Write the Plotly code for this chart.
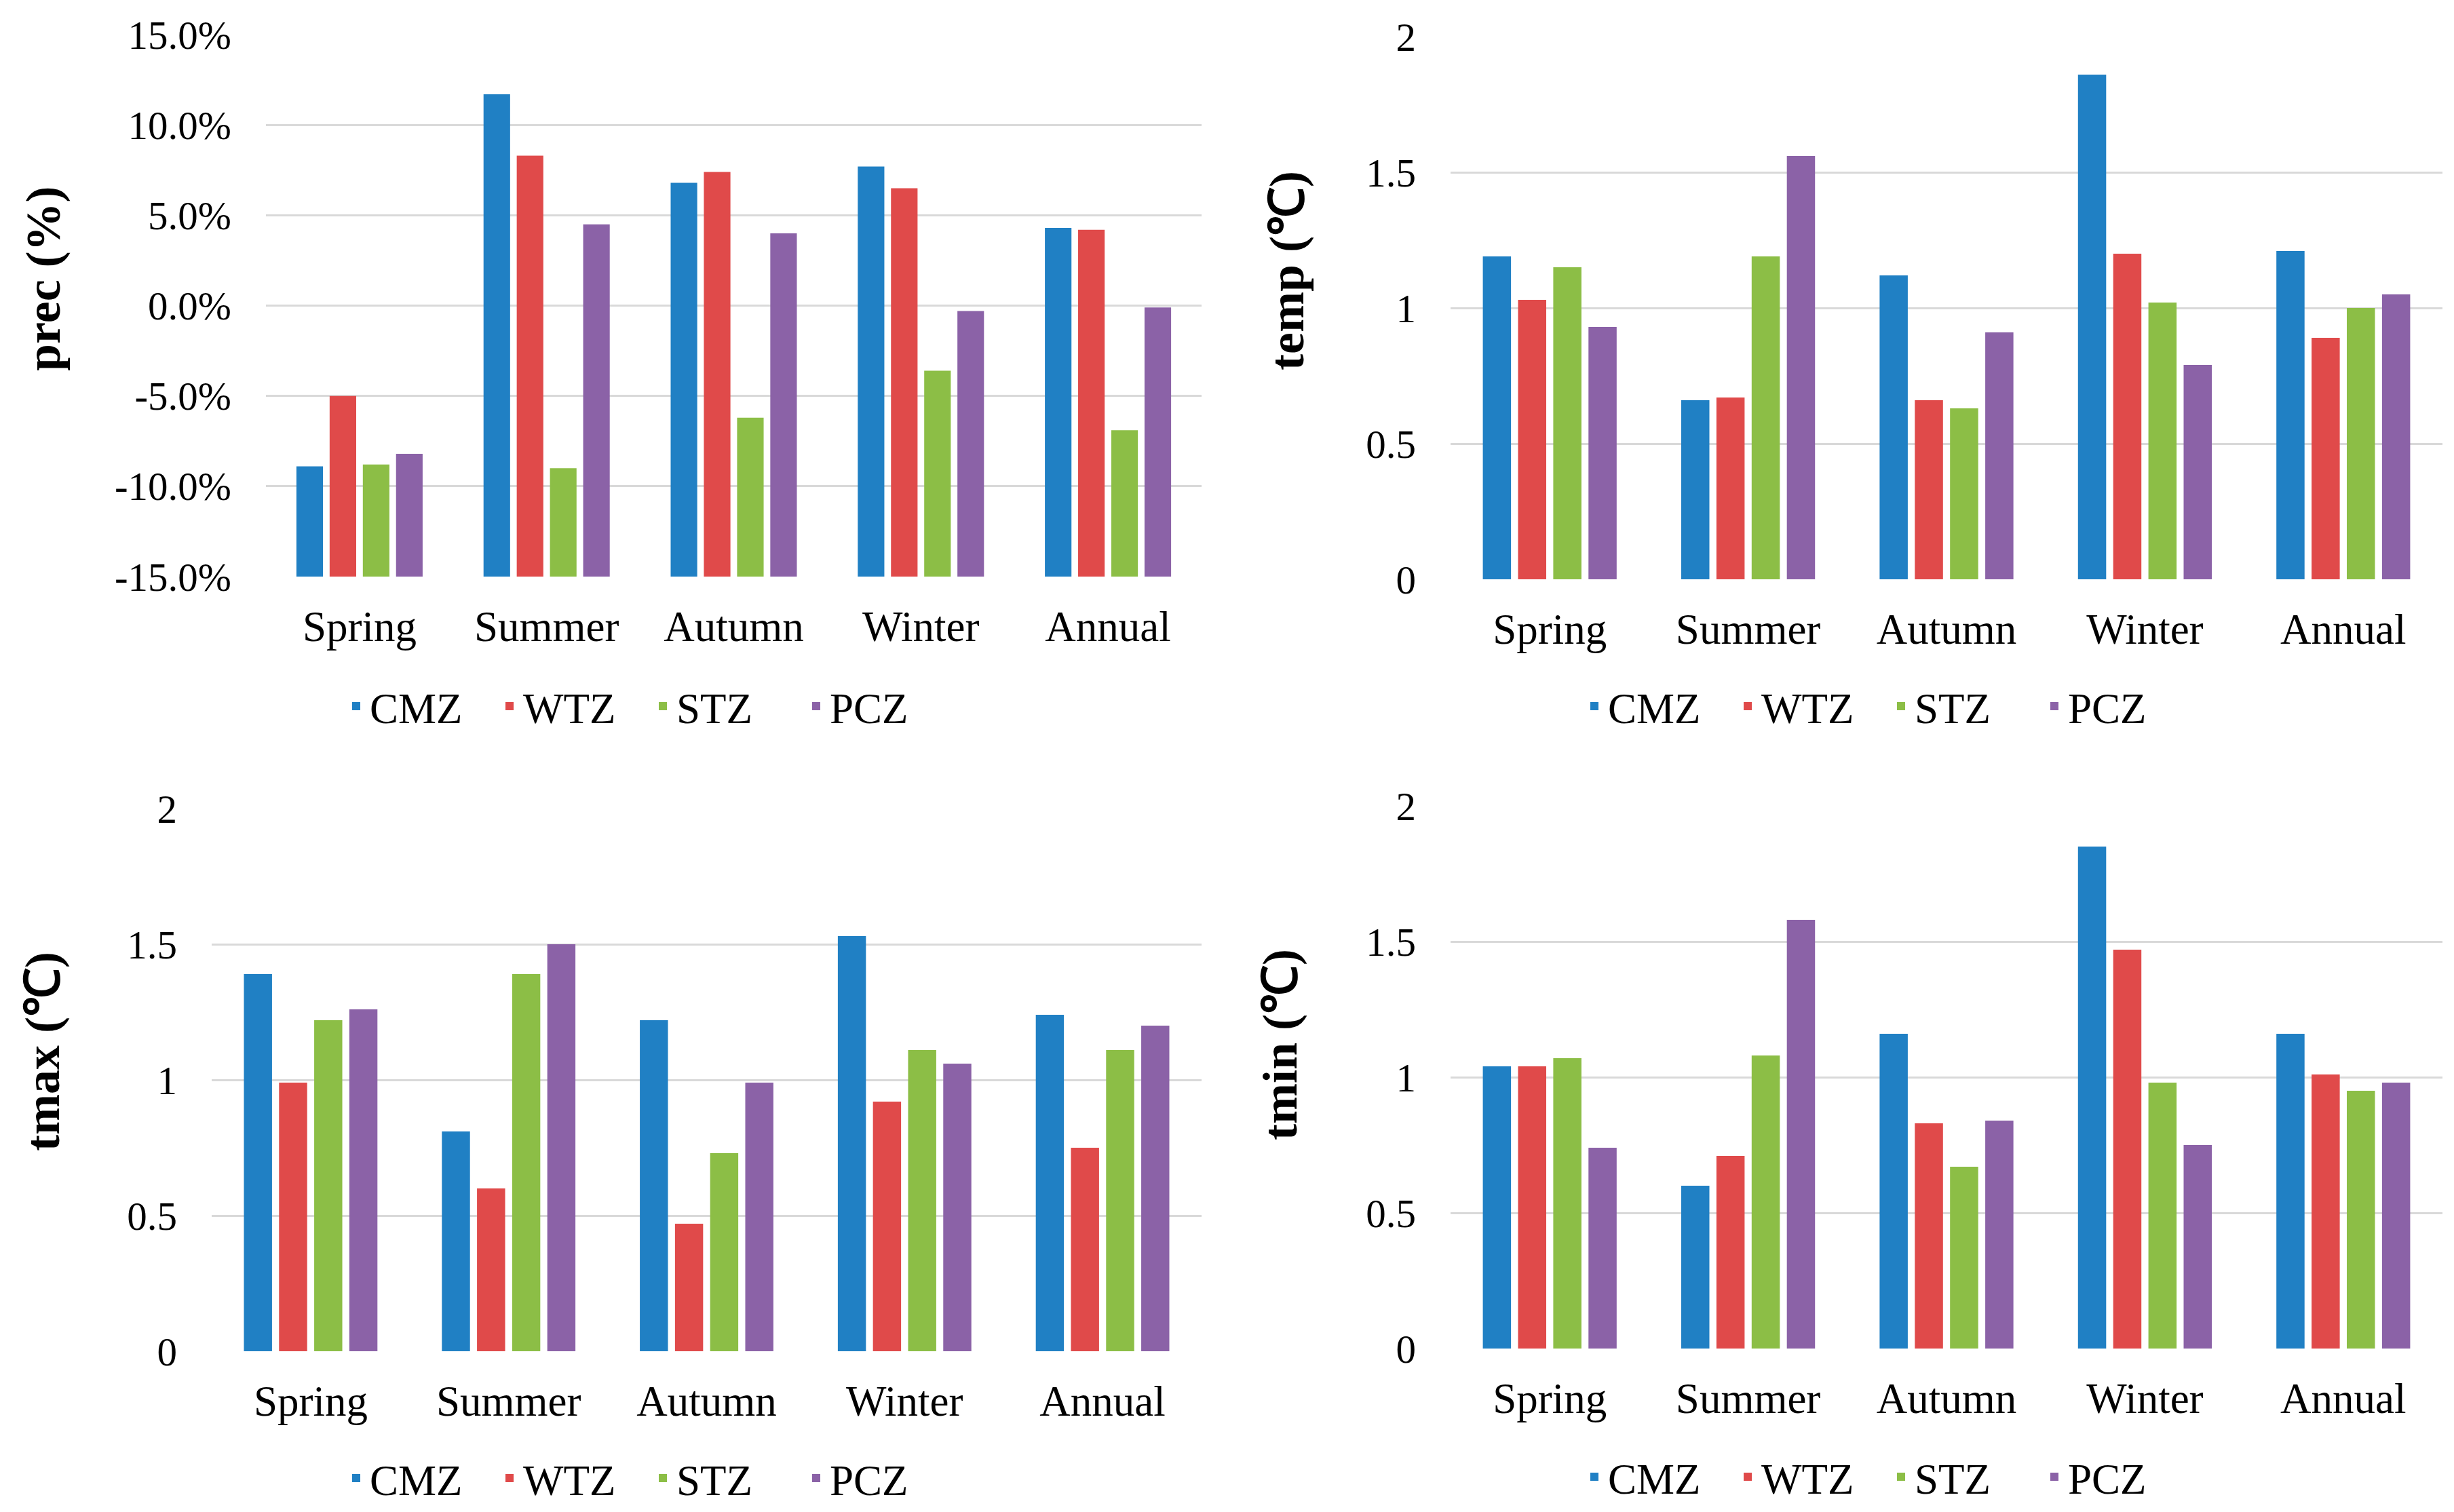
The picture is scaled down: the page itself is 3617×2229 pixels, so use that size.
import plotly.graph_objects as go

# ---------------- data ----------------
categories = ["Spring", "Summer", "Autumn", "Winter", "Annual"]
zones = ["CMZ", "WTZ", "STZ", "PCZ"]
zone_colors = ["#2080C4", "#E04A4A", "#8CBE46", "#8B62A7"]

# precipitation change (fraction)
prec_CMZ = [-0.089, 0.117, 0.068, 0.077, 0.043]
prec_WTZ = [-0.050, 0.083, 0.074, 0.065, 0.042]
prec_STZ = [-0.088, -0.090, -0.062, -0.036, -0.069]
prec_PCZ = [-0.082, 0.045, 0.040, -0.003, -0.001]

# mean temperature change (degC)
temp_CMZ = [1.19, 0.66, 1.12, 1.86, 1.21]
temp_WTZ = [1.03, 0.67, 0.66, 1.20, 0.89]
temp_STZ = [1.15, 1.19, 0.63, 1.02, 1.00]
temp_PCZ = [0.93, 1.56, 0.91, 0.79, 1.05]

# max temperature change (degC)
tmax_CMZ = [1.39, 0.81, 1.22, 1.53, 1.24]
tmax_WTZ = [0.99, 0.60, 0.47, 0.92, 0.75]
tmax_STZ = [1.22, 1.39, 0.73, 1.11, 1.11]
tmax_PCZ = [1.26, 1.50, 0.99, 1.06, 1.20]

# min temperature change (degC)
tmin_CMZ = [1.04, 0.60, 1.16, 1.85, 1.16]
tmin_WTZ = [1.04, 0.71, 0.83, 1.47, 1.01]
tmin_STZ = [1.07, 1.08, 0.67, 0.98, 0.95]
tmin_PCZ = [0.74, 1.58, 0.84, 0.75, 0.98]

prec_ticks = [-0.15, -0.10, -0.05, 0.0, 0.05, 0.10, 0.15]
prec_ticktext = ["-15.0%", "-10.0%", "-5.0%", "0.0%", "5.0%", "10.0%", "15.0%"]
temp_ticks = [0, 0.5, 1, 1.5, 2]
temp_ticktext = ["0", "0.5", "1", "1.5", "2"]

titles = ["prec (%)", "temp (℃)", "tmax (℃)", "tmin (℃)"]

# ---------------- figure ----------------
W, H = 3617, 2229
OFF = 8  # page body margin offset
FONT = "Liberation Serif, Times New Roman, serif"

panels = [
    dict(series=[prec_CMZ, prec_WTZ, prec_STZ, prec_PCZ], base=prec_ticks[0],
         ticks=prec_ticks, ticktext=prec_ticktext, rng=[prec_ticks[0], prec_ticks[-1]]),
    dict(series=[temp_CMZ, temp_WTZ, temp_STZ, temp_PCZ], base=0,
         ticks=temp_ticks, ticktext=temp_ticktext, rng=[0, 2]),
    dict(series=[tmax_CMZ, tmax_WTZ, tmax_STZ, tmax_PCZ], base=0,
         ticks=temp_ticks, ticktext=temp_ticktext, rng=[0, 2]),
    dict(series=[tmin_CMZ, tmin_WTZ, tmin_STZ, tmin_PCZ], base=0,
         ticks=temp_ticks, ticktext=temp_ticktext, rng=[0, 2]),
]

# plot-area boxes in screen pixels: (left, right, top, bottom)
boxes = [(392, 1771, 51, 850), (2138, 3600, 54, 854),
         (312, 1771, 1192, 1992), (2138, 3600, 1188, 1988)]
title_pos = [(64, 411), (1897, 399), (63, 1550), (1887, 1540)]
legend_pos = [(957, 1041), (2782, 1041), (957, 2179), (2782, 2177)]

fig = go.Figure()
layout = dict(
    width=W, height=H, autosize=False,
    margin=dict(l=0, r=0, t=0, b=0, autoexpand=False),
    paper_bgcolor="white", plot_bgcolor="white",
    barmode="group", bargap=0.29, bargroupgap=0.2,
    font=dict(family=FONT, color="#000000"),
    annotations=[],
)


def px_x(v):
    return (v - OFF) / W


def px_y(v):
    return 1 - (v - OFF) / H


for i, p in enumerate(panels):
    k = "" if i == 0 else str(i + 1)
    leg = "legend" + k
    for z, vals, col in zip(zones, p["series"], zone_colors):
        fig.add_trace(go.Bar(
            x=categories,
            y=[v - p["base"] for v in vals],
            base=p["base"],
            name=z, marker=dict(color=col, line=dict(width=0)),
            xaxis="x" + k, yaxis="y" + k, legend=leg,
            customdata=vals,
            hovertemplate="%{x}: %{customdata}<extra>" + z + "</extra>",
        ))
    l, r, t, b = boxes[i]
    layout["xaxis" + k] = dict(
        domain=[px_x(l), px_x(r)], anchor="y" + k,
        showgrid=False, showline=False, zeroline=False, ticks="",
        tickfont=dict(size=63, family=FONT, color="#000000"),
        ticklabelstandoff=31,
    )
    layout["yaxis" + k] = dict(
        domain=[px_y(b), px_y(t)], anchor="x" + k,
        range=p["rng"], tickvals=p["ticks"], ticktext=p["ticktext"],
        showgrid=True, gridcolor="#D9D9D9", gridwidth=3,
        showline=False, zeroline=False, ticks="",
        tickfont=dict(size=59, family=FONT, color="#000000"),
        ticklabelstandoff=50,
    )
    lx, ly = legend_pos[i]
    layout[leg] = dict(
        orientation="h", x=px_x(lx), y=px_y(ly),
        xanchor="center", yanchor="middle",
        font=dict(size=63, family=FONT, color="#000000"),
        bgcolor="rgba(0,0,0,0)", entrywidth=181, entrywidthmode="pixels",
        itemclick=False, itemdoubleclick=False,
    )
    tx, ty = title_pos[i]
    layout["annotations"].append(dict(
        text="<b>" + titles[i] + "</b>", xref="paper", yref="paper",
        x=px_x(tx), y=px_y(ty), xanchor="center", yanchor="middle",
        textangle=-90, showarrow=False,
        font=dict(size=72, family=FONT, color="#000000"),
    ))

fig.update_layout(**layout)
fig.write_html("out.html")
